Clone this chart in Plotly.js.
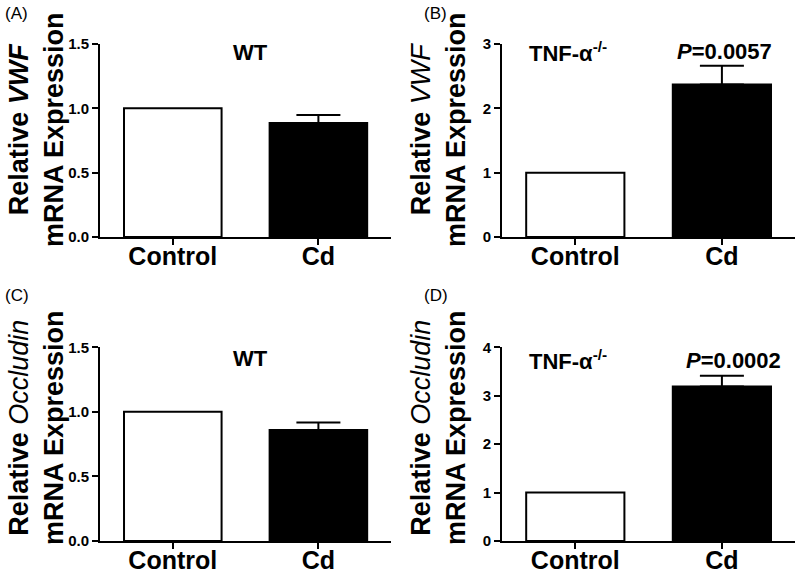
<!DOCTYPE html>
<html>
<head>
<meta charset="utf-8">
<script src="https://cdn.plot.ly/plotly-3.0.1.min.js"></script>
<style>html,body{margin:0;padding:0;background:#fff;}#chart{width:800px;height:575px;}</style>
</head>
<body>
<div id="chart"></div>
<script>
const categories = ['Control', 'Cd'];
const vwfWT = [1.0, 0.886];
const vwfWTErr = 0.062;
const vwfKO = [1.0, 2.37];
const vwfKOErr = 0.29;
const occWT = [1.0, 0.859];
const occWTErr = 0.059;
const occKO = [1.0, 3.19];
const occKOErr = 0.225;
const pValues = ['0.0057', '0.0002'];

const FONT = 'Liberation Sans, Arial, Helvetica, sans-serif';

function pair(vals, err, xa, ya) {
  return [
    {type: 'bar', x: [categories[0]], y: [vals[0]], xaxis: xa, yaxis: ya, width: 0.67,
     marker: {color: '#ffffff', line: {color: '#000', width: 2}}, showlegend: false, hoverinfo: 'skip'},
    {type: 'bar', x: [categories[1]], y: [vals[1]], xaxis: xa, yaxis: ya, width: 0.67,
     marker: {color: '#000000', line: {color: '#000', width: 2}}, showlegend: false, hoverinfo: 'skip',
     error_y: {type: 'data', symmetric: false, array: [err], arrayminus: [0], color: '#000', thickness: 2, width: 22}}
  ];
}

const data = [].concat(
  pair(vwfWT, vwfWTErr, 'x', 'y'),
  pair(vwfKO, vwfKOErr, 'x2', 'y2'),
  pair(occWT, occWTErr, 'x3', 'y3'),
  pair(occKO, occKOErr, 'x4', 'y4')
);

function xax(domain, anchor) {
  return {domain: domain, anchor: anchor, type: 'category', categoryorder: 'array', categoryarray: categories,
    range: [-0.5, 1.5], showline: true, linecolor: '#000', linewidth: 2, ticks: 'outside', ticklen: 6,
    tickwidth: 2, tickcolor: '#000', showgrid: false, zeroline: false, ticklabelstandoff: -10,
    tickfont: {family: FONT, size: 25, color: '#000', weight: 'bold'}, fixedrange: true};
}
function yax(domain, anchor, range, dtick, fmt) {
  return {domain: domain, anchor: anchor, range: range, dtick: dtick, tick0: 0, tickformat: fmt,
    showline: true, linecolor: '#000', linewidth: 2, ticks: 'outside', ticklen: 6, tickwidth: 2,
    tickcolor: '#000', showgrid: false, zeroline: false,
    tickfont: {family: FONT, size: 15, color: '#000', weight: 'bold'}, fixedrange: true};
}

const xA = [0.125, 0.489], xB = [0.6275, 0.994];
const yTop = [0.5878, 0.9235], yBot = [0.0591, 0.396];

function ann(text, x, y, size, extra) {
  return Object.assign({text: text, xref: 'paper', yref: 'paper', x: x, y: y, showarrow: false,
    xanchor: 'center', yanchor: 'middle', font: {family: FONT, size: size, color: '#000'}}, extra || {});
}

const annotations = [
  ann('(A)', 3/800, 1 - 14/575, 17, {xanchor: 'left'}),
  ann('(B)', 422/800, 1 - 14/575, 17, {xanchor: 'left'}),
  ann('(C)', 3/800, 1 - 295/575, 17, {xanchor: 'left'}),
  ann('(D)', 422/800, 1 - 295/575, 17, {xanchor: 'left'}),
  ann('<b>WT</b>', 251/800, 1 - 53/575, 22),
  ann('<b>TNF-α<sup>-/-</sup></b>', 568/800, 1 - 52/575, 22),
  ann('<b><i>P</i>=' + pValues[0] + '</b>', 724/800, 1 - 52/575, 22),
  ann('<b>WT</b>', 251/800, 1 - 358/575, 22),
  ann('<b>TNF-α<sup>-/-</sup></b>', 568/800, 1 - 360/575, 22),
  ann('<b><i>P</i>=' + pValues[1] + '</b>', 733/800, 1 - 360/575, 22),
  ann('<b>Relative <i>VWF</i></b><br><b>mRNA Expression</b>', 36/800, 1 - 130/575, 27, {textangle: -90}),
  ann('<b>Relative </b><i>VWF</i><br><b>mRNA Expression</b>', 438/800, 1 - 130/575, 27, {textangle: -90}),
  ann('<b>Relative </b><i>Occludin</i><br><b>mRNA Expression</b>', 36/800, 1 - 428/575, 27, {textangle: -90}),
  ann('<b>Relative </b><i>Occludin</i><br><b>mRNA Expression</b>', 438/800, 1 - 428/575, 27, {textangle: -90})
];

const layout = {
  width: 800, height: 575, margin: {l: 0, r: 0, t: 0, b: 0},
  paper_bgcolor: '#fff', plot_bgcolor: '#fff', barmode: 'overlay', showlegend: false,
  font: {family: FONT, color: '#000'},
  xaxis: xax(xA, 'y'), yaxis: yax(yTop, 'x', [0, 1.5], 0.5, '.1f'),
  xaxis2: xax(xB, 'y2'), yaxis2: yax(yTop, 'x2', [0, 3], 1, 'd'),
  xaxis3: xax(xA, 'y3'), yaxis3: yax(yBot, 'x3', [0, 1.5], 0.5, '.1f'),
  xaxis4: xax(xB, 'y4'), yaxis4: yax(yBot, 'x4', [0, 4], 1, 'd'),
  annotations: annotations
};

Plotly.newPlot('chart', data, layout, {displayModeBar: false, staticPlot: true});
</script>
</body>
</html>
